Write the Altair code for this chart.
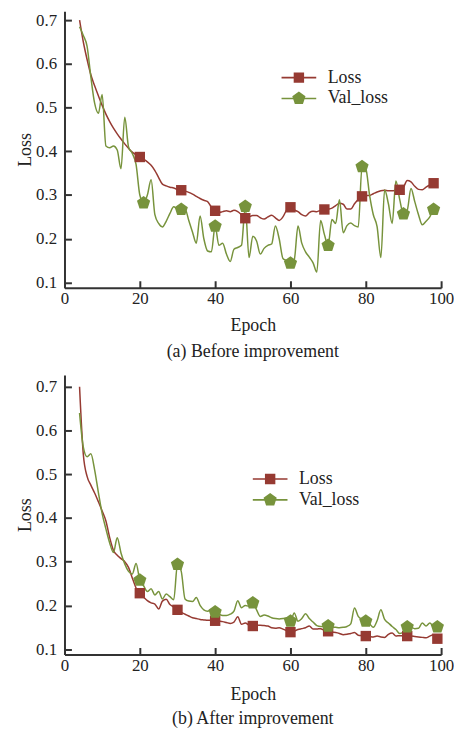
import altair as alt
import pandas as pd

# ---------------- data ----------------
epochs = list(range(4, 100))

loss_a = [0.700, 0.650, 0.610, 0.575, 0.550, 0.527, 0.505, 0.485, 0.468, 0.453,
          0.440, 0.428, 0.417, 0.407, 0.398, 0.392, 0.387, 0.382, 0.376, 0.368,
          0.356, 0.340, 0.325, 0.321, 0.318, 0.316, 0.313, 0.311, 0.309, 0.306,
          0.302, 0.297, 0.292, 0.288, 0.285, 0.272, 0.264, 0.260, 0.262, 0.264,
          0.262, 0.265, 0.262, 0.255, 0.247, 0.250, 0.253, 0.253, 0.248, 0.245,
          0.250, 0.254, 0.248, 0.242, 0.250, 0.266, 0.272, 0.266, 0.262, 0.255,
          0.252, 0.260, 0.263, 0.262, 0.265, 0.267, 0.268, 0.270, 0.276, 0.281,
          0.279, 0.268, 0.268, 0.280, 0.290, 0.297, 0.299, 0.299, 0.303, 0.307,
          0.310, 0.311, 0.310, 0.310, 0.311, 0.312, 0.318, 0.333, 0.330, 0.320,
          0.313, 0.312, 0.318, 0.323, 0.327, 0.328]

val_a = [0.685, 0.665, 0.640, 0.570, 0.510, 0.487, 0.530, 0.412, 0.408, 0.412,
         0.403, 0.360, 0.478, 0.410, 0.395, 0.370, 0.300, 0.282, 0.300, 0.335,
         0.255, 0.235, 0.227, 0.240, 0.258, 0.273, 0.268, 0.267, 0.268, 0.242,
         0.215, 0.190, 0.252, 0.200, 0.172, 0.170, 0.229, 0.185, 0.190, 0.165,
         0.148, 0.176, 0.180, 0.185, 0.274, 0.157, 0.206, 0.195, 0.165, 0.178,
         0.185, 0.188, 0.229, 0.200, 0.155, 0.150, 0.144, 0.152, 0.229, 0.190,
         0.170, 0.158, 0.145, 0.124, 0.242, 0.210, 0.185, 0.244, 0.235, 0.289,
         0.214, 0.230, 0.236, 0.230, 0.227, 0.365, 0.360, 0.300, 0.255, 0.228,
         0.157, 0.312, 0.280, 0.235, 0.332, 0.290, 0.257, 0.265, 0.315, 0.285,
         0.255, 0.232, 0.240, 0.250, 0.267, 0.270]

loss_b = [0.700, 0.545, 0.495, 0.475, 0.457, 0.437, 0.416, 0.393, 0.355, 0.326,
          0.315, 0.307, 0.300, 0.287, 0.263, 0.240, 0.228, 0.219, 0.211, 0.206,
          0.203, 0.192, 0.210, 0.214, 0.202, 0.197, 0.190, 0.184, 0.180, 0.176,
          0.172, 0.170, 0.168, 0.167, 0.166, 0.166, 0.165, 0.164, 0.163, 0.161,
          0.159, 0.162, 0.174, 0.157, 0.160, 0.155, 0.153, 0.155, 0.155, 0.154,
          0.153, 0.149, 0.148, 0.149, 0.146, 0.142, 0.139, 0.141, 0.145, 0.147,
          0.149, 0.153, 0.146, 0.146, 0.147, 0.143, 0.141, 0.139, 0.138, 0.136,
          0.133, 0.134, 0.136, 0.138, 0.132, 0.131, 0.130, 0.129, 0.128, 0.130,
          0.128, 0.127, 0.134, 0.137, 0.130, 0.131, 0.130, 0.130, 0.130, 0.129,
          0.128, 0.127, 0.126, 0.130, 0.133, 0.124]

val_b = [0.640, 0.562, 0.540, 0.547, 0.510, 0.458, 0.410, 0.375, 0.343, 0.321,
         0.355, 0.320, 0.295, 0.278, 0.272, 0.296, 0.258, 0.245, 0.232, 0.238,
         0.224, 0.232, 0.215, 0.226, 0.220, 0.213, 0.294, 0.278, 0.215, 0.210,
         0.209, 0.218, 0.200, 0.190, 0.187, 0.190, 0.185, 0.180, 0.177, 0.177,
         0.180, 0.187, 0.211, 0.195, 0.200, 0.198, 0.206, 0.190, 0.175, 0.178,
         0.176, 0.172, 0.170, 0.169, 0.170, 0.172, 0.164, 0.183, 0.164, 0.170,
         0.181, 0.170, 0.162, 0.154, 0.152, 0.152, 0.153, 0.151, 0.150, 0.149,
         0.150, 0.152, 0.158, 0.194, 0.175, 0.168, 0.164, 0.158, 0.150, 0.165,
         0.190, 0.168, 0.160, 0.152, 0.145, 0.136, 0.140, 0.151, 0.150, 0.147,
         0.148, 0.160, 0.153, 0.160, 0.152, 0.151]

loss_marks_a = [20, 31, 40, 48, 60, 69, 79, 89, 98]
val_marks_a = [21, 31, 40, 48, 60, 70, 79, 90, 98]
loss_marks_b = [20, 30, 40, 50, 60, 70, 80, 91, 99]
val_marks_b = [20, 30, 40, 50, 60, 70, 80, 91, 99]

series_names = ["Loss", "Val_loss"]
x_ticks = [0, 20, 40, 60, 80, 100]
y_ticks = [0.1, 0.2, 0.3, 0.4, 0.5, 0.6, 0.7]

# ---------------- style ----------------
SERIF = "Liberation Serif"
TXT = "#222222"
AX = "#333333"
RED = "#963A32"
GREEN = "#77933C"
W = 380
TICK = 7

PENTAGON = "M0,-1L0.951,-0.309L0.588,0.809L-0.588,0.809L-0.951,-0.309Z"
# legend symbols (unit = 11 px): a line through the marker
LEG_LOSS = ("M-1.591,-0.073H1.591V0.073H-1.591Z "
            "M-0.477,-0.477H0.477V0.477H-0.477Z")
LEG_VAL = ("M-1.591,-0.073H1.591V0.073H-1.591Z "
           "M0,-0.636L0.605,-0.197L0.374,0.515L-0.374,0.515L-0.605,-0.197Z")


def panel(loss, val, loss_marks, val_marks, ydom, height, caption,
          leg_x, leg_y, x_title_pad, cap_offset):
    df = pd.DataFrame({"epoch": epochs, "loss": loss, "val": val})
    base = alt.Chart(df)
    xs = alt.Scale(domain=[0, 100], nice=False, zero=False)
    ys = alt.Scale(domain=ydom, nice=False, zero=False)

    # short dashed grid segments act as inward tick marks
    main_x = alt.Axis(orient="bottom", values=x_ticks, ticks=False, grid=True,
                      gridDash=[0, height - TICK, TICK, 3000], gridColor=AX,
                      gridWidth=2, gridOpacity=1, domainColor=AX,
                      domainWidth=2, labelFont=SERIF, labelFontSize=17,
                      labelColor=TXT, labelPadding=3, labelFlush=False,
                      title="Epoch", titleFont=SERIF, titleFontSize=18,
                      titleFontWeight="normal", titleColor=TXT,
                      titlePadding=x_title_pad)
    main_y = alt.Axis(orient="left", values=y_ticks, format=".1f", ticks=False,
                      grid=True, gridDash=[TICK, 3000], gridColor=AX,
                      gridWidth=2, gridOpacity=1, domainColor=AX,
                      domainWidth=2, labelFont=SERIF, labelFontSize=17,
                      labelColor=TXT, labelPadding=8, labelFlush=False,
                      title="Loss", titleFont=SERIF, titleFontSize=18,
                      titleFontWeight="normal", titleColor=TXT, titlePadding=1)

    line_loss = base.mark_line(color=RED, strokeWidth=1.5,
                               interpolate="monotone").encode(
        x=alt.X("epoch:Q", scale=xs, axis=main_x),
        y=alt.Y("loss:Q", scale=ys, axis=main_y))
    line_val = base.mark_line(color=GREEN, strokeWidth=1.5,
                              interpolate="monotone").encode(
        x=alt.X("epoch:Q", scale=xs),
        y=alt.Y("val:Q", scale=ys))
    pts_loss = base.mark_point(shape="square", filled=True, size=110,
                               color=RED, opacity=1).encode(
        x=alt.X("epoch:Q", scale=xs),
        y=alt.Y("loss:Q", scale=ys)
    ).transform_filter(alt.FieldOneOfPredicate(field="epoch", oneOf=loss_marks))
    pts_val = base.mark_point(shape=PENTAGON, filled=True, size=196,
                              color=GREEN, opacity=1).encode(
        x=alt.X("epoch:Q", scale=xs),
        y=alt.Y("val:Q", scale=ys)
    ).transform_filter(alt.FieldOneOfPredicate(field="epoch", oneOf=val_marks))

    leg = alt.Legend(title=None, orient="none", legendX=leg_x, legendY=leg_y,
                     direction="vertical", padding=0, symbolSize=484,
                     symbolStrokeWidth=0, symbolOffset=6.5, labelFont=SERIF,
                     labelFontSize=18, labelColor=TXT, labelOffset=18,
                     rowPadding=1, symbolOpacity=1)
    legend_layer = alt.Chart(pd.DataFrame({"series": series_names})).mark_point(
        filled=True, size=484, opacity=1, strokeWidth=0).encode(
        color=alt.Color("series:N", legend=leg,
                        scale=alt.Scale(domain=series_names, range=[RED, GREEN])),
        shape=alt.Shape("series:N", legend=leg,
                        scale=alt.Scale(domain=series_names,
                                        range=[LEG_LOSS, LEG_VAL]))
    ).transform_filter("false")

    return alt.layer(line_loss, line_val, pts_loss, pts_val, legend_layer).properties(
        width=W, height=height,
        title=alt.TitleParams(caption, orient="bottom", anchor="middle",
                              font=SERIF, fontSize=18, fontWeight="normal",
                              color=TXT, offset=cap_offset))


top = panel(loss_a, val_a, loss_marks_a, val_marks_a, [0.088, 0.7204], 279,
            "(a) Before improvement", 219, 56, 10, 9)
bottom = panel(loss_b, val_b, loss_marks_b, val_marks_b, [0.088, 0.727], 282,
               "(b) After improvement", 190, 94, 12, 7)

chart = alt.vconcat(top, bottom, spacing=14).resolve_scale(
    color="independent", shape="independent"
).properties(
    padding={"left": 8, "top": 0, "right": 0, "bottom": 0}
).configure_view(stroke=None).configure_axis(labelFont=SERIF, titleFont=SERIF)

chart.save("out.html", embed_options={"renderer": "svg", "actions": False})
